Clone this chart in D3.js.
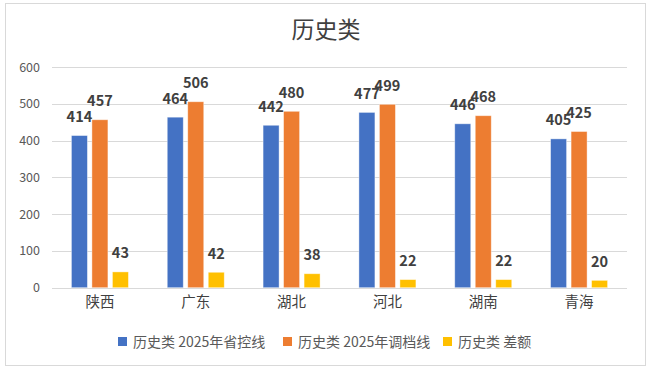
<!DOCTYPE html>
<html>
<head>
<meta charset="utf-8">
<script src="https://cdn.jsdelivr.net/npm/d3@7"></script>
<style>
  html, body { margin: 0; padding: 0; background: #fff; }
  svg { display: block; }
</style>
</head>
<body>
<script>
const width = 654;
const height = 373;

const provinces = ['陕西', '广东', '湖北', '河北', '湖南', '青海'];
const seriesNames = ['历史类 2025年省控线', '历史类 2025年调档线', '历史类 差额'];
const controlLine = [414, 464, 442, 477, 446, 405];
const admitLine = [457, 506, 480, 499, 468, 425];
const diff = [43, 42, 38, 22, 22, 20];
const yTicks = [0, 100, 200, 300, 400, 500, 600];

const colors = ['#4472c4', '#ed7d31', '#ffc000'];
const series = [controlLine, admitLine, diff];

const font = '"Noto Sans CJK SC", "Noto Sans", sans-serif';

const svg = d3.select('body')
  .append('svg')
  .attr('width', width)
  .attr('height', height)
  .style('font-family', font);

// chart frame
svg.append('rect')
  .attr('x', 5.5)
  .attr('y', 3.5)
  .attr('width', 640)
  .attr('height', 362)
  .attr('fill', '#fff')
  .attr('stroke', '#d9d9d9');

svg.append('text')
  .attr('x', 326)
  .attr('y', 38)
  .attr('text-anchor', 'middle')
  .attr('fill', '#404040')
  .style('font-size', '23px')
  .text('历史类');

const x = d3.scaleBand()
  .domain(provinces)
  .range([52, 627]);

const y = d3.scaleLinear()
  .domain([0, 600])
  .range([287.7, 67.2]);

const barWidth = 16;
const step = 20.5;

// grid lines
svg.append('g')
  .selectAll('line')
  .data(yTicks)
  .join('line')
    .attr('x1', x.range()[0])
    .attr('x2', x.range()[1])
    .attr('y1', d => Math.round(y(d)) + 0.5)
    .attr('y2', d => Math.round(y(d)) + 0.5)
    .attr('stroke', '#d9d9d9');

const yAxis = svg.append('g')
  .attr('transform', 'translate(40,0)')
  .call(d3.axisLeft(y).tickValues(yTicks).tickSize(0).tickPadding(0));
yAxis.select('.domain').remove();
yAxis.selectAll('text')
  .attr('fill', '#595959')
  .style('font-family', font)
  .style('font-size', '12.5px');

const xAxis = svg.append('g')
  .attr('transform', 'translate(0,288)')
  .call(d3.axisBottom(x).tickSize(0).tickPadding(9));
xAxis.select('.domain').remove();
xAxis.selectAll('text')
  .attr('fill', '#404040')
  .style('font-family', font)
  .style('font-size', '14.5px');

const rows = series.flatMap((values, s) =>
  values.map((v, i) => ({ s, v, province: provinces[i] })));

const cx = d => x(d.province) + x.bandwidth() / 2 + (d.s - 1) * step;

svg.append('g')
  .selectAll('rect')
  .data(rows)
  .join('rect')
    .attr('x', d => cx(d) - barWidth / 2)
    .attr('y', d => y(d.v))
    .attr('width', barWidth)
    .attr('height', d => y(0) - y(d.v))
    .attr('fill', d => colors[d.s])
    .attr('stroke', 'rgba(255,255,255,0.5)')
    .attr('stroke-width', 0.8);

svg.append('g')
  .selectAll('text')
  .data(rows)
  .join('text')
    .attr('x', d => cx(d))
    .attr('y', d => y(d.v) - 13.5)
    .attr('text-anchor', 'middle')
    .attr('fill', '#404040')
    .style('font-size', '14.5px')
    .style('font-weight', 700)
    .text(d => d.v);

// legend
const legendX = [118, 283, 443];
const legend = svg.append('g')
  .selectAll('g')
  .data(seriesNames)
  .join('g')
    .attr('transform', (d, i) => `translate(${legendX[i]},337)`);

legend.append('rect')
  .attr('width', 9)
  .attr('height', 9)
  .attr('fill', (d, i) => colors[i]);

legend.append('text')
  .attr('x', 15)
  .attr('y', 9.5)
  .attr('fill', '#595959')
  .style('font-size', '14px')
  .text(d => d);
</script>
</body>
</html>
